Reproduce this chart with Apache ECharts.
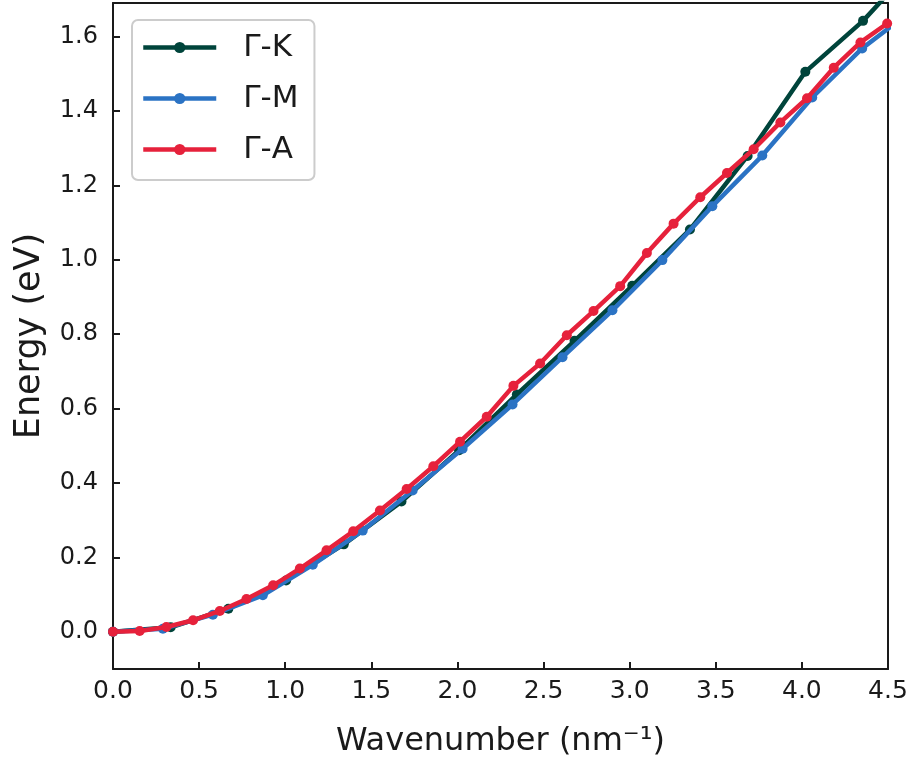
<!DOCTYPE html>
<html>
<head>
<meta charset="utf-8">
<script src="https://cdn.jsdelivr.net/npm/echarts@6/dist/echarts.min.js"></script>
<style>
html,body{margin:0;padding:0;background:#fff;}
#chart{width:913px;height:763px;}
</style>
</head>
<body>
<div id="chart"></div>
<script>
// Γ-K
const xK = [0, 0.335, 0.67, 1.005, 1.34, 1.675, 2.01, 2.345, 2.68, 3.015, 3.35, 3.685, 4.02, 4.355, 4.69];
const yK = [0, 0.012, 0.062, 0.138, 0.235, 0.35, 0.488, 0.638, 0.782, 0.93, 1.081, 1.279, 1.505, 1.642, 1.81];
// Γ-M
const xM = [0, 0.29, 0.58, 0.87, 1.16, 1.45, 1.74, 2.03, 2.32, 2.61, 2.90, 3.19, 3.48, 3.77, 4.06, 4.35, 4.64];
const yM = [0, 0.008, 0.046, 0.098, 0.18, 0.272, 0.38, 0.492, 0.611, 0.738, 0.864, 0.999, 1.144, 1.28, 1.436, 1.568, 1.67];
// Γ-A
const xA = [0, 0.155, 0.31, 0.465, 0.62, 0.775, 0.93, 1.085, 1.24, 1.395, 1.55, 1.705, 1.86, 2.015, 2.17,
            2.325, 2.48, 2.635, 2.79, 2.945, 3.1, 3.255, 3.41, 3.565, 3.72, 3.875, 4.03, 4.185, 4.34, 4.495];
const yA = [0, 0.002, 0.013, 0.031, 0.056, 0.088, 0.125, 0.17, 0.219, 0.27, 0.326, 0.384, 0.445, 0.511, 0.578,
            0.661, 0.721, 0.797, 0.862, 0.929, 1.018, 1.097, 1.168, 1.233, 1.297, 1.369, 1.434, 1.516, 1.584, 1.635];

const seriesNames = ['Γ-K', 'Γ-M', 'Γ-A'];
const yTicks = [0.0, 0.2, 0.4, 0.6, 0.8, 1.0, 1.2, 1.4, 1.6];
const xTicks = [0.0, 0.5, 1.0, 1.5, 2.0, 2.5, 3.0, 3.5, 4.0, 4.5];

const colors = ['#00443b', '#2b73c4', '#e6213b'];
const FONT = 'DejaVu Sans';
const ink = '#1a1a1a';

function pairs(xs, ys) { return xs.map((x, i) => [x, ys[i]]); }
const allData = [pairs(xK, yK), pairs(xM, yM), pairs(xA, yA)];

const chart = echarts.init(document.getElementById('chart'), null, {renderer: 'canvas'});
const axisLineStyle = {color: ink, width: 2};
chart.setOption({
  animation: false,
  backgroundColor: '#fff',
  grid: {left: 113, right: 25, top: 3, bottom: 87, containLabel: false},
  legend: {
    data: seriesNames,
    orient: 'vertical',
    left: 132, top: 20,
    padding: [12, 16, 15, 9],
    itemWidth: 73, itemHeight: 14,
    itemGap: 20,
    borderColor: '#cccccc', borderWidth: 2, borderRadius: 6,
    backgroundColor: '#ffffff',
    lineStyle: {width: 4.5},
    textStyle: {fontFamily: FONT, fontSize: 31, lineHeight: 30, color: ink, padding: [0, 0, 0, 22]}
  },
  xAxis: [{
    type: 'value', min: 0, max: 4.5, interval: 0.5,
    name: 'Wavenumber (nm⁻¹)', nameLocation: 'middle', nameGap: 57,
    nameTextStyle: {fontFamily: FONT, fontSize: 32, color: ink},
    axisLine: {show: true, onZero: false, lineStyle: axisLineStyle},
    axisTick: {show: true, inside: true, length: 7, lineStyle: axisLineStyle},
    axisLabel: {fontFamily: FONT, fontSize: 25, color: ink, margin: 10,
      customValues: xTicks, formatter: v => v.toFixed(1)},
    splitLine: {show: false}
  }, {
    type: 'value', min: 0, max: 4.5, position: 'top',
    axisLine: {show: true, onZero: false, lineStyle: axisLineStyle},
    axisTick: {show: false}, axisLabel: {show: false}, splitLine: {show: false}
  }],
  yAxis: [{
    type: 'value', min: -0.1, max: 1.69,
    name: 'Energy (eV)', nameLocation: 'middle', nameGap: 66,
    nameTextStyle: {fontFamily: FONT, fontSize: 35, color: ink},
    axisLine: {show: true, onZero: false, lineStyle: axisLineStyle},
    axisTick: {show: true, inside: true, length: 7, lineStyle: axisLineStyle, customValues: yTicks},
    axisLabel: {fontFamily: FONT, fontSize: 24, color: ink, margin: 15,
      customValues: yTicks, formatter: v => v.toFixed(1)},
    splitLine: {show: false}
  }, {
    type: 'value', min: -0.1, max: 1.69, position: 'right',
    axisLine: {show: true, onZero: false, lineStyle: axisLineStyle},
    axisTick: {show: false}, axisLabel: {show: false}, splitLine: {show: false}
  }],
  series: seriesNames.map((n, i) => ({
    name: n, type: 'line', data: allData[i],
    xAxisIndex: 0, yAxisIndex: 0,
    clip: true,
    symbol: 'circle', symbolSize: 10, showSymbol: true,
    lineStyle: {color: colors[i], width: 4.5},
    itemStyle: {color: colors[i]},
    z: 2 + i
  }))
});
</script>
</body>
</html>
